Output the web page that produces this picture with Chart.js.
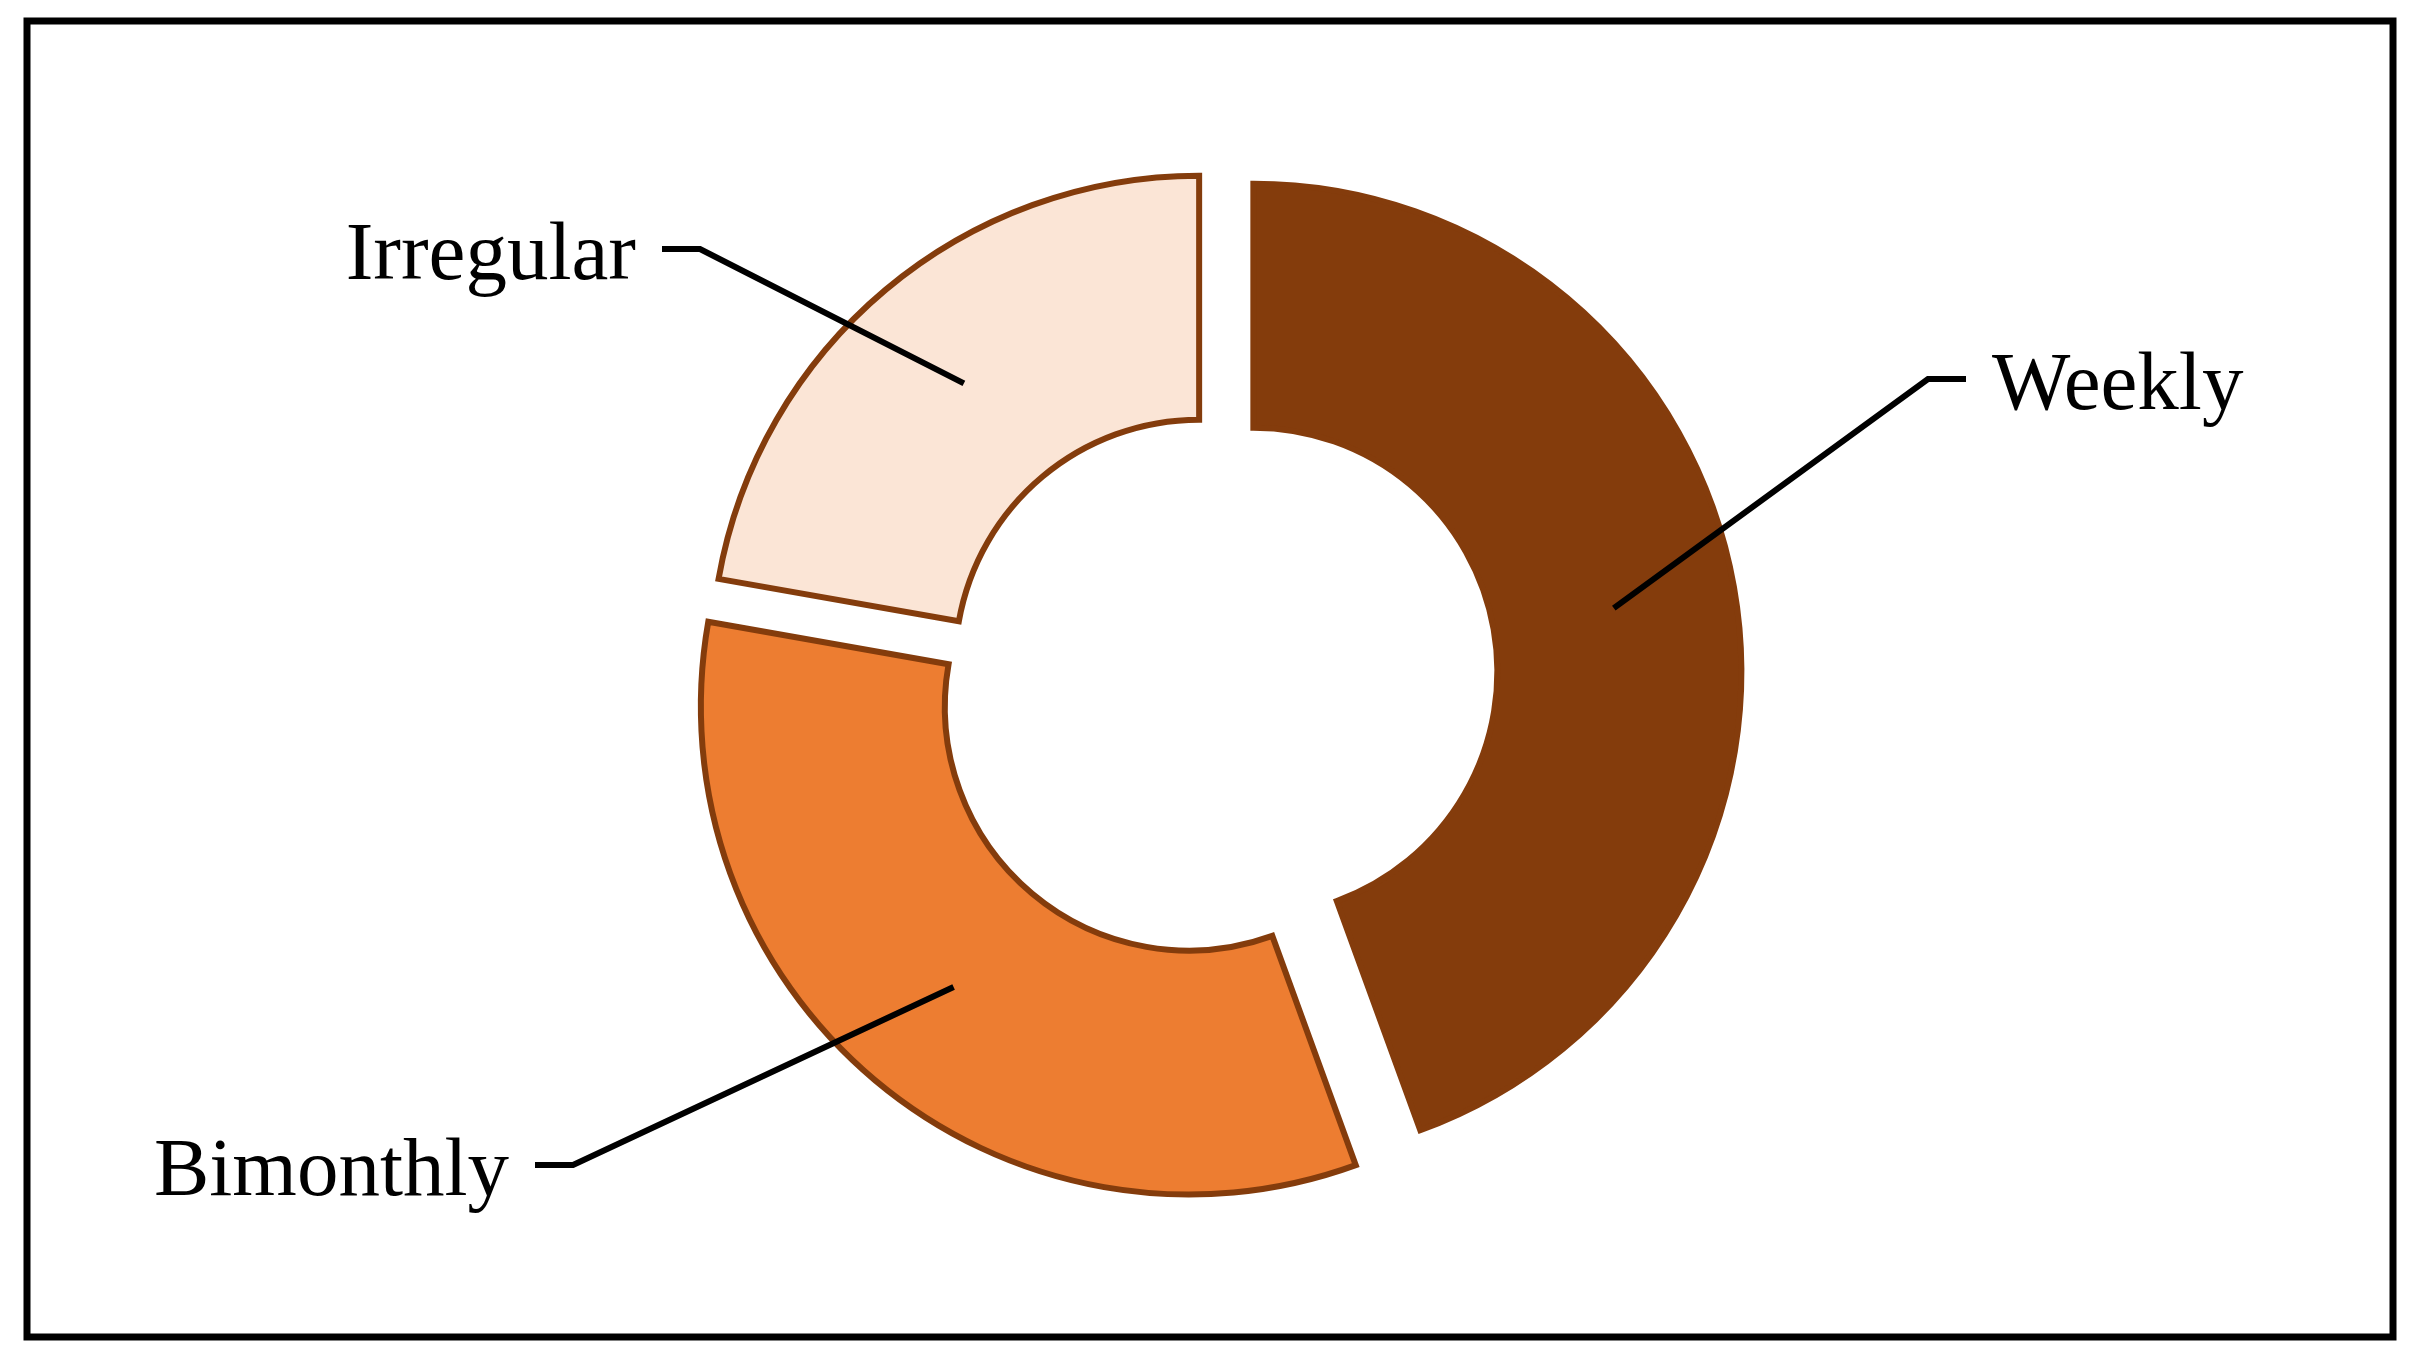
<!DOCTYPE html>
<html>
<head>
<meta charset="utf-8">
<script src="https://cdn.jsdelivr.net/npm/chart.js@4.4.1/dist/chart.umd.min.js"></script>
<style>
  html, body { margin: 0; padding: 0; background: #ffffff; }
  canvas { display: block; }
</style>
</head>
<body>
<canvas id="myChart" width="2419" height="1360"></canvas>
<script>
const categories = ['Weekly', 'Bimonthly', 'Irregular'];
const shares = [44.4, 33.3, 22.2];

const fillColors = ['#843C0C', '#ED7D31', '#FBE5D6'];
const edgeColor = '#843C0C';
// how far each slice is pulled out of the ring, px
const explode = [42, 36, 20];
// elbow of each leader line, relative to the ring centre
const calloutElbow = [
  { dx: 716, dy: -300 },
  { dx: -639, dy: 486 },
  { dx: -512, dy: -430 },
];

const framePlugin = {
  id: 'frame',
  beforeDraw(chart) {
    const ctx = chart.ctx;
    ctx.save();
    ctx.fillStyle = '#ffffff';
    ctx.fillRect(0, 0, chart.width, chart.height);
    ctx.strokeStyle = '#000000';
    ctx.lineWidth = 7;
    ctx.strokeRect(27, 21, 2366, 1316);
    ctx.restore();
  },
};

const explodePlugin = {
  id: 'explode',
  beforeDatasetDraw(chart, args) {
    const ctx = chart.ctx;
    args.meta.data.forEach((arc, i) => {
      const mid = (arc.startAngle + arc.endAngle) / 2;
      ctx.save();
      ctx.translate(Math.cos(mid) * explode[i], Math.sin(mid) * explode[i]);
      arc.draw(ctx);
      ctx.restore();
    });
    return false;
  },
};

const calloutPlugin = {
  id: 'callouts',
  afterDatasetsDraw(chart) {
    const ctx = chart.ctx;
    const meta = chart.getDatasetMeta(0);
    ctx.save();
    ctx.strokeStyle = '#000000';
    ctx.fillStyle = '#000000';
    ctx.lineWidth = 6;
    ctx.lineJoin = 'miter';
    ctx.font = '83px "Liberation Serif", "Times New Roman", serif';
    ctx.textBaseline = 'alphabetic';
    meta.data.forEach((arc, i) => {
      const mid = (arc.startAngle + arc.endAngle) / 2;
      const c = arc.getCenterPoint();
      const sx = c.x + Math.cos(mid) * explode[i];
      const sy = c.y + Math.sin(mid) * explode[i];
      const ex = arc.x + calloutElbow[i].dx;
      const ey = arc.y + calloutElbow[i].dy;
      const side = calloutElbow[i].dx > 0 ? 1 : -1;
      const hx = ex + side * 38;
      ctx.beginPath();
      ctx.moveTo(sx, sy);
      ctx.lineTo(ex, ey);
      ctx.lineTo(hx, ey);
      ctx.stroke();
      ctx.textAlign = side > 0 ? 'left' : 'right';
      ctx.fillText(chart.data.labels[i], hx + side * 26, ey + 30);
    });
    ctx.restore();
  },
};

const ctx = document.getElementById('myChart').getContext('2d');
const myChart = new Chart(ctx, {
  type: 'doughnut',
  data: {
    labels: categories,
    datasets: [
      {
        data: shares,
        backgroundColor: fillColors,
        borderColor: edgeColor,
        borderWidth: 6,
        borderJoinStyle: 'miter',
      },
    ],
  },
  options: {
    responsive: false,
    animation: false,
    events: [],
    radius: 488,
    cutout: '50%',
    layout: {
      padding: { left: 5, right: 0, top: 0, bottom: 2 },
    },
    plugins: {
      legend: { display: false },
      tooltip: { enabled: false },
    },
  },
  plugins: [framePlugin, explodePlugin, calloutPlugin],
});
</script>
</body>
</html>
